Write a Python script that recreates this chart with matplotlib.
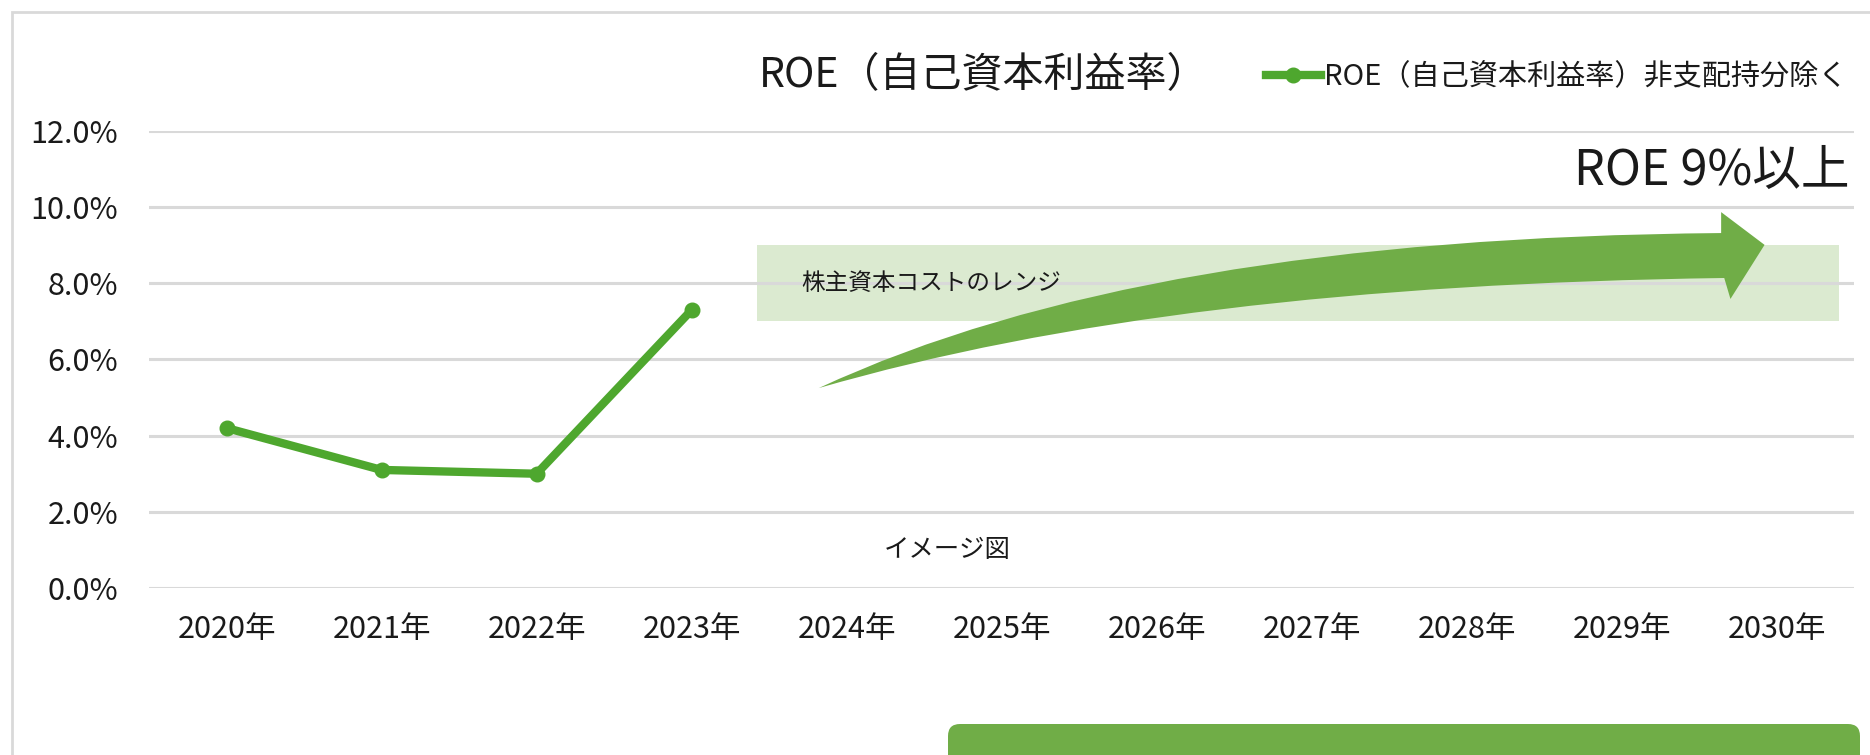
import matplotlib
matplotlib.use('Agg')
import matplotlib.pyplot as plt
from matplotlib.path import Path
from matplotlib.patches import PathPatch, Rectangle, FancyBboxPatch

plt.rcParams['font.family'] = ['Noto Sans CJK JP', 'DejaVu Sans']

# Data
years = ['2020年', '2021年', '2022年', '2023年', '2024年', '2025年',
         '2026年', '2027年', '2028年', '2029年', '2030年']
roe = [4.2, 3.1, 3.0, 7.3]          # %, actuals 2020-2023
y_ticks = [0, 2, 4, 6, 8, 10, 12]
cost_range = (7.0, 9.0)             # shareholders' equity cost range (%)
target_label = 'ROE 9%以上'

line_green = '#4EA72E'
arrow_green = '#70AD47'
grid_gray = '#d9d9d9'
text_col = '#1a1a1a'

fig = plt.figure(figsize=(18.7, 7.55), dpi=100)
ax = fig.add_axes([0.0797, 0.2212, 0.912, 0.6053])

x = list(range(len(years)))
ax.set_xlim(-0.5, len(years) - 0.5)
ax.set_ylim(0, 12)

# gridlines
ax.set_yticks(y_ticks)
ax.set_yticklabels([f'{v:.1f}%' for v in y_ticks])
ax.set_xticks(x)
ax.set_xticklabels(years)
ax.grid(axis='y', color=grid_gray, lw=2.2, zorder=0)
ax.tick_params(axis='both', length=0, labelsize=22, colors=text_col)
ax.tick_params(axis='y', pad=22)
ax.tick_params(axis='x', pad=19)
for s in ax.spines.values():
    s.set_visible(False)

# cost of equity band
ax.add_patch(Rectangle((3.42, cost_range[0]), 10.40 - 3.42,
                       cost_range[1] - cost_range[0],
                       facecolor=arrow_green, alpha=0.25, lw=0, zorder=1))
ax.text(3.71, sum(cost_range) / 2, '株主資本コストのレンジ', fontsize=17,
        color=text_col, va='center', ha='left', zorder=4)

# curved arrow (image)
tail = (3.82, 5.25)
verts = [tail, (5.9, 9.2), (9.64, 9.32),
         (9.64, 9.87), (9.92, 9.01), (9.70, 7.59),
         (9.66, 8.14), (6.1, 7.95), tail, tail]
codes = [Path.MOVETO, Path.CURVE3, Path.CURVE3,
         Path.LINETO, Path.LINETO, Path.LINETO,
         Path.LINETO, Path.CURVE3, Path.CURVE3, Path.CLOSEPOLY]
ax.add_patch(PathPatch(Path(verts, codes), facecolor=arrow_green,
                       edgecolor='none', zorder=3))

# actual ROE line
ax.plot(x[:len(roe)], roe, color=line_green, lw=6, marker='o',
        markersize=10.5, zorder=5,
        label='ROE（自己資本利益率）非支配持分除く')

ax.text(10.47, 10.95, target_label, fontsize=35, color=text_col,
        ha='right', va='center')
ax.text(4.65, 1.0, 'イメージ図', fontsize=18.3, color=text_col,
        ha='center', va='center')

# title and legend
fig.text(0.526, 0.90, 'ROE（自己資本利益率）', fontsize=29.5, color=text_col,
         ha='center', va='center')
ax.legend(loc='center left', bbox_to_anchor=(0.669, 0.898),
          bbox_transform=fig.transFigure, frameon=False, fontsize=21,
          handlelength=1.9, handletextpad=0.1, borderpad=0,
          labelcolor=text_col)

# chart border and bottom box
fig.add_artist(Rectangle((0.12, -1.0), 20, 8.43, transform=fig.dpi_scale_trans,
                         facecolor='none', edgecolor=grid_gray, lw=2))
fig.add_artist(FancyBboxPatch((9.48, -0.4), 18.60 - 9.48, 0.71,
                              boxstyle='round,pad=0,rounding_size=0.12',
                              transform=fig.dpi_scale_trans,
                              facecolor=arrow_green, edgecolor='none'))

fig.savefig('out.png', dpi=100)
